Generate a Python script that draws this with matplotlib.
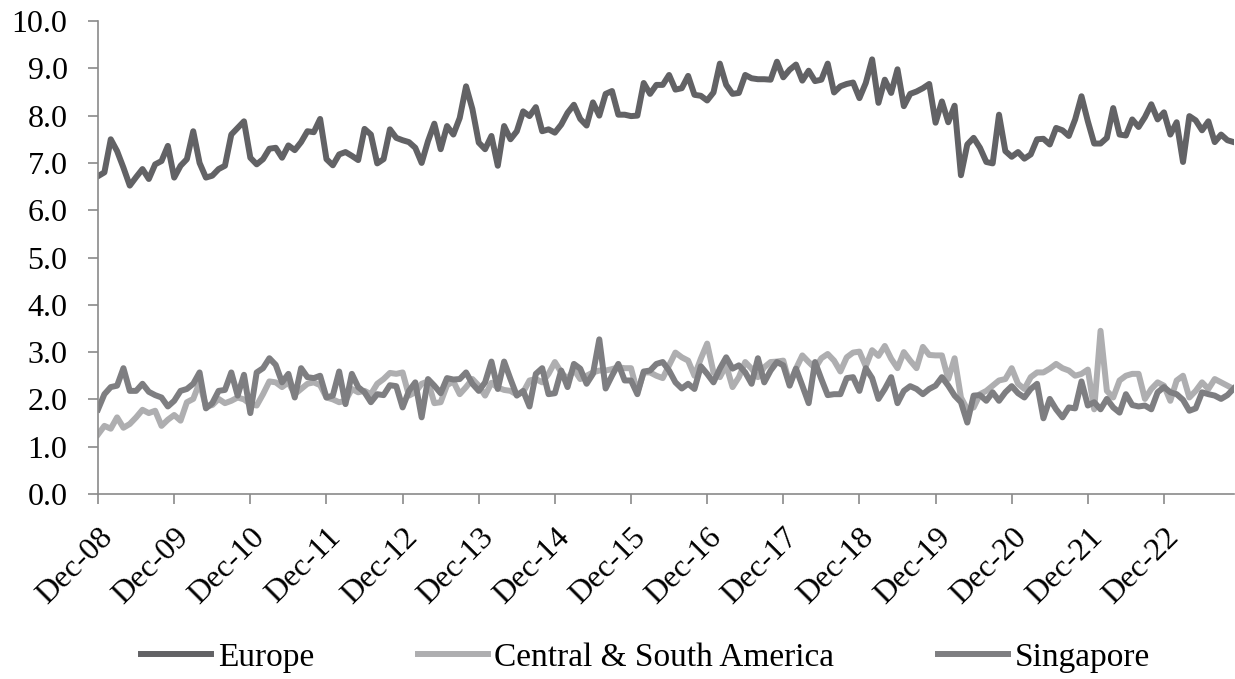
import matplotlib
matplotlib.use("Agg")
import matplotlib.pyplot as plt
from matplotlib.transforms import ScaledTranslation
import pandas as pd

# Monthly series, Dec-08 onwards
europe = [
    6.72, 6.80, 7.50, 7.25, 6.90, 6.52, 6.70, 6.87, 6.66, 6.97,
    7.04, 7.36, 6.69, 6.94, 7.08, 7.67, 7.00, 6.69, 6.73, 6.87,
    6.94, 7.60, 7.74, 7.88, 7.11, 6.97, 7.08, 7.30, 7.32, 7.11,
    7.37, 7.27, 7.44, 7.67, 7.65, 7.93, 7.08, 6.95, 7.18, 7.23,
    7.15, 7.06, 7.72, 7.60, 6.99, 7.08, 7.71, 7.53, 7.48, 7.44,
    7.32, 7.00, 7.46, 7.83, 7.29, 7.78, 7.60, 7.95, 8.62, 8.14,
    7.43, 7.29, 7.57, 6.94, 7.78, 7.50, 7.67, 8.09, 7.99, 8.18,
    7.67, 7.71, 7.64, 7.81, 8.06, 8.23, 7.93, 7.79, 8.28, 8.00,
    8.46, 8.52, 8.02, 8.02, 7.99, 8.00, 8.69, 8.46, 8.65, 8.65,
    8.86, 8.55, 8.58, 8.84, 8.44, 8.42, 8.32, 8.49, 9.10, 8.65,
    8.46, 8.48, 8.86, 8.79, 8.77, 8.77, 8.76, 9.14, 8.81, 8.97,
    9.08, 8.74, 8.95, 8.73, 8.76, 9.10, 8.49, 8.62, 8.67, 8.70,
    8.37, 8.69, 9.19, 8.27, 8.76, 8.48, 8.98, 8.20, 8.46, 8.51,
    8.58, 8.67, 7.85, 8.30, 7.86, 8.21, 6.74, 7.39, 7.53, 7.32,
    7.02, 6.99, 8.02, 7.25, 7.13, 7.23, 7.09, 7.18, 7.50, 7.51,
    7.39, 7.74, 7.69, 7.57, 7.92, 8.41, 7.88, 7.41, 7.41, 7.53,
    8.16, 7.60, 7.58, 7.92, 7.76, 7.97, 8.24, 7.92, 8.07, 7.60,
    7.86, 7.02, 7.99, 7.90, 7.69, 7.88, 7.44, 7.60, 7.48, 7.44,
]

central_south_america = [
    1.26, 1.44, 1.38, 1.62, 1.40, 1.48, 1.62, 1.78, 1.71, 1.76,
    1.44, 1.57, 1.67, 1.55, 1.94, 2.01, 2.36, 1.85, 1.88, 2.01,
    1.92, 1.97, 2.04, 2.00, 1.90, 1.87, 2.11, 2.38, 2.36, 2.26,
    2.36, 2.11, 2.22, 2.33, 2.36, 2.30, 2.04, 2.00, 1.94, 1.97,
    2.22, 2.15, 2.18, 2.11, 2.33, 2.43, 2.56, 2.54, 2.57, 2.08,
    2.15, 2.33, 2.38, 1.92, 1.94, 2.30, 2.38, 2.11, 2.26, 2.43,
    2.29, 2.08, 2.35, 2.25, 2.20, 2.18, 2.10, 2.15, 2.40, 2.43,
    2.36, 2.54, 2.79, 2.57, 2.43, 2.63, 2.43, 2.50, 2.57, 2.61,
    2.61, 2.64, 2.68, 2.66, 2.66, 2.15, 2.57, 2.57, 2.50, 2.45,
    2.72, 2.99, 2.89, 2.82, 2.50, 2.86, 3.18, 2.57, 2.47, 2.72,
    2.26, 2.47, 2.79, 2.65, 2.47, 2.68, 2.79, 2.80, 2.82, 2.33,
    2.65, 2.93, 2.79, 2.66, 2.87, 2.96, 2.82, 2.59, 2.89, 2.99,
    3.01, 2.70, 3.04, 2.92, 3.13, 2.86, 2.66, 3.00, 2.82, 2.66,
    3.11, 2.94, 2.93, 2.93, 2.43, 2.87, 2.04, 1.79, 1.83, 2.11,
    2.18, 2.29, 2.40, 2.43, 2.66, 2.33, 2.22, 2.47, 2.57, 2.57,
    2.65, 2.75, 2.66, 2.61, 2.50, 2.54, 2.63, 1.79, 3.45, 2.18,
    2.04, 2.40, 2.50, 2.54, 2.54, 2.01, 2.22, 2.36, 2.29, 1.97,
    2.40, 2.50, 2.04, 2.18, 2.36, 2.22, 2.43, 2.36, 2.29, 2.22,
]

singapore = [
    1.79, 2.11, 2.26, 2.29, 2.66, 2.18, 2.18, 2.33, 2.16, 2.09,
    2.04, 1.85, 1.97, 2.18, 2.22, 2.33, 2.57, 1.81, 1.92, 2.18,
    2.20, 2.57, 2.08, 2.52, 1.71, 2.57, 2.66, 2.87, 2.73, 2.36,
    2.54, 2.04, 2.66, 2.47, 2.45, 2.50, 2.04, 2.08, 2.59, 1.90,
    2.54, 2.26, 2.15, 1.94, 2.11, 2.09, 2.30, 2.28, 1.83, 2.18,
    2.36, 1.62, 2.43, 2.29, 2.13, 2.45, 2.42, 2.43, 2.57, 2.33,
    2.18, 2.36, 2.80, 2.22, 2.80, 2.43, 2.08, 2.18, 1.85, 2.54,
    2.66, 2.11, 2.13, 2.61, 2.26, 2.75, 2.65, 2.33, 2.54, 3.27,
    2.23, 2.50, 2.75, 2.40, 2.40, 2.11, 2.59, 2.61, 2.75, 2.79,
    2.61, 2.36, 2.23, 2.33, 2.22, 2.70, 2.54, 2.36, 2.65, 2.89,
    2.65, 2.72, 2.57, 2.33, 2.87, 2.36, 2.61, 2.79, 2.72, 2.29,
    2.65, 2.29, 1.92, 2.79, 2.43, 2.09, 2.11, 2.11, 2.45, 2.47,
    2.18, 2.66, 2.45, 2.01, 2.22, 2.47, 1.92, 2.18, 2.28, 2.22,
    2.11, 2.22, 2.29, 2.47, 2.29, 2.08, 1.94, 1.51, 2.08, 2.09,
    1.97, 2.15, 1.97, 2.15, 2.28, 2.13, 2.04, 2.22, 2.33, 1.60,
    2.01, 1.79, 1.62, 1.83, 1.81, 2.38, 1.87, 1.94, 1.79, 2.01,
    1.83, 1.72, 2.11, 1.88, 1.85, 1.87, 1.79, 2.15, 2.26, 2.15,
    2.11, 1.99, 1.76, 1.81, 2.15, 2.11, 2.08, 2.01, 2.09, 2.23,
]

months = pd.date_range("2008-12-01", periods=len(europe), freq="MS")
tick_idx = [i for i, m in enumerate(months) if m.month == 12]
tick_labels = [months[i].strftime("%b-%y") for i in tick_idx]

plt.rcParams["font.family"] = ["Liberation Serif", "DejaVu Serif"]

fig = plt.figure(figsize=(12.35, 6.79), dpi=100)
ax = fig.add_axes([0.0794, 0.2725, 0.9196, 0.6965])

x = list(range(len(europe)))
lw = 4.3
ax.plot(x, europe, color="#626265", lw=lw, label="Europe", solid_joinstyle="round")
ax.plot(x, central_south_america, color="#aeaeb0", lw=lw,
        label="Central & South America", solid_joinstyle="round")
ax.plot(x, singapore, color="#7e7e81", lw=lw, label="Singapore", solid_joinstyle="round")

ax.set_xlim(0, len(europe) - 1)
ax.set_ylim(0, 10)
ax.set_yticks(range(0, 11))
ax.set_yticklabels([f"{v:.1f}" for v in range(0, 11)], fontsize=23)

ax.set_xticks(tick_idx)
ax.set_xticklabels(tick_labels, fontsize=23, rotation=45, ha="right", va="top",
                   rotation_mode="anchor")
offset = ScaledTranslation(0.07, 0, fig.dpi_scale_trans)
for lab in ax.get_xticklabels():
    lab.set_transform(lab.get_transform() + offset)

for side in ("top", "right"):
    ax.spines[side].set_visible(False)
for side in ("left", "bottom"):
    ax.spines[side].set_color("#8a8a8a")
    ax.spines[side].set_linewidth(1.2)

ax.tick_params(axis="y", direction="out", length=7, width=1.2, color="#8a8a8a", pad=15)
ax.tick_params(axis="x", direction="out", length=7, width=1.2, color="#8a8a8a", pad=14)

fig.legend(loc="center", bbox_to_anchor=(0.5227, 0.032), ncol=3, frameon=False,
           fontsize=24, handlelength=2.1, handletextpad=0.2, columnspacing=3.1)

fig.savefig("out.png", dpi=100)
